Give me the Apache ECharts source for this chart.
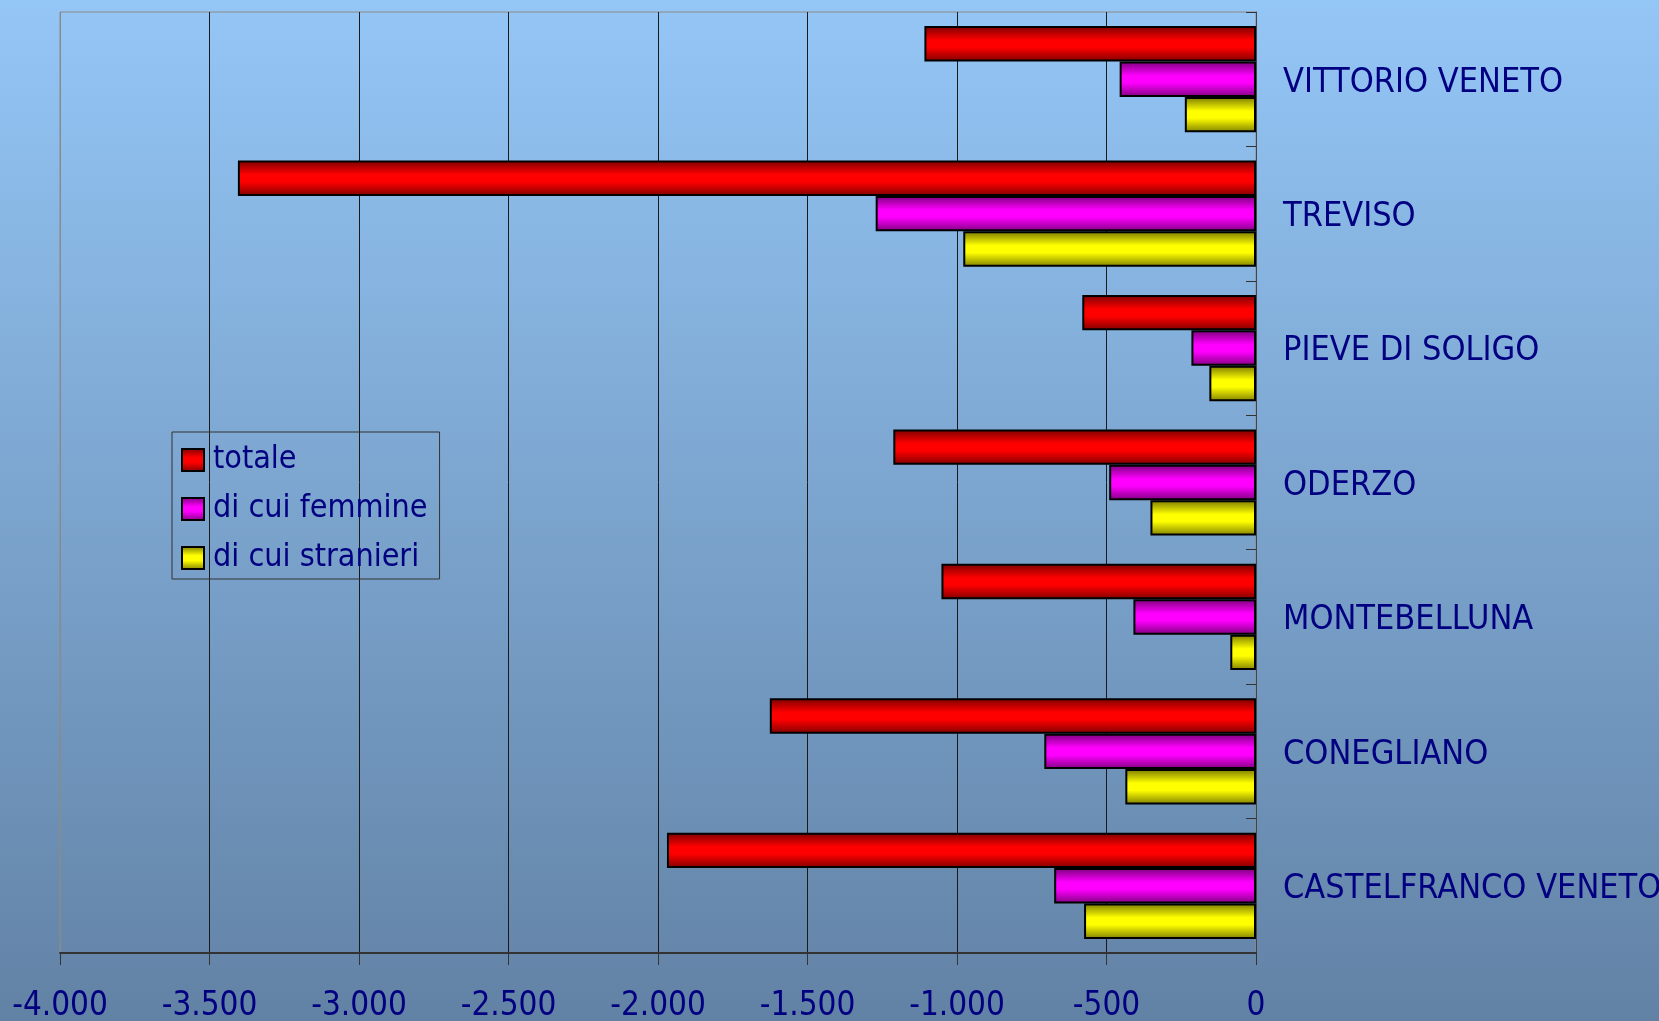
<!DOCTYPE html>
<html>
<head>
<meta charset="utf-8">
<style>
html,body{margin:0;padding:0;width:1659px;height:1021px;overflow:hidden;}
#c{width:1659px;height:1021px;}
</style>
<script src="https://cdn.jsdelivr.net/npm/echarts@6/dist/echarts.min.js"></script>
</head>
<body>
<div id="c"></div>
<script>
var categories = ['VITTORIO VENETO','TREVISO','PIEVE DI SOLIGO','ODERZO','MONTEBELLUNA','CONEGLIANO','CASTELFRANCO VENETO'];
var totale = [-1109, -3405, -581, -1213, -1052, -1626, -1970];
var femmine = [-456, -1272, -216, -491, -410, -708, -675];
var stranieri = [-238, -979, -156, -353, -86, -437, -575];
var seriesNames = ['totale','di cui femmine','di cui stranieri'];
var xTicks = {min: -4000, max: 0, interval: 500};

function grad(dark, bright, dark2){
  return new echarts.graphic.LinearGradient(0,0,0,1,[
    {offset:0,color:dark},{offset:0.4,color:bright},{offset:0.6,color:bright},{offset:1,color:dark2}
  ]);
}
function fmt(v){
  var s = Math.abs(v).toString().replace(/\B(?=(\d{3})+(?!\d))/g,'.');
  return (v<0?'-':'')+s;
}
var chart = echarts.init(document.getElementById('c'));
var font = "'DejaVu Sans Condensed', 'DejaVu Sans'";
var navy = '#000080';
function mk(name, data, style){
  return {
    name:name, type:'bar', data:data, barGap:'0%', barCategoryGap:'21%',
    itemStyle:{color:style, borderColor:'#000', borderWidth:2},
    emphasis:{disabled:true}, animation:false
  };
}
chart.setOption({
  animation:false,
  backgroundColor: new echarts.graphic.LinearGradient(0,0,0,1,[
    {offset:0,color:'#94c6f6'},{offset:1,color:'#6282a5'}
  ]),
  grid:{left:60,right:403,top:12,bottom:68,show:true,borderColor:'#8a8a8a',borderWidth:1,backgroundColor:'transparent',containLabel:false,outerBoundsMode:'none'},
  legend:{
    orient:'vertical', left:172, top:432, padding:[12,12,5,9],
    itemWidth:22, itemHeight:22, itemGap:17, icon:'rect',
    borderColor:'#333', borderWidth:1,
    textStyle:{color:navy, fontSize:32, fontFamily:font, lineHeight:31, padding:[0,0,0,4]},
    data:seriesNames,
    selectedMode:false
  },
  xAxis:{
    type:'value', min:xTicks.min, max:xTicks.max, interval:xTicks.interval,
    axisLine:{show:true, lineStyle:{color:'#333', width:2}},
    axisTick:{show:true, length:12, lineStyle:{color:'#333'}},
    axisLabel:{color:navy, fontSize:33, fontFamily:font, margin:37, formatter:fmt},
    splitLine:{show:true, lineStyle:{color:['#8a8a8a','#1a1a1a','#1a1a1a','#1a1a1a','#1a1a1a','#1a1a1a','#1a1a1a','#1a1a1a','#444'], width:1}}
  },
  yAxis:{
    type:'category', data:categories, inverse:true, position:'right',
    axisLine:{show:true, lineStyle:{color:'#444', width:1}},
    axisTick:{show:true, inside:true, length:10, lineStyle:{color:'#333'}},
    axisLabel:{
      color:navy, fontSize:34, fontFamily:font, margin:27,
      formatter:function(v){ return '{a|' + v + '}'; },
      rich:{a:{color:navy, fontSize:34, fontFamily:font, padding:[7,0,0,0]}}
    },
    splitLine:{show:false}
  },
  series:[
    mk(seriesNames[0], totale, grad('#7a0000','#ff0000','#800000')),
    mk(seriesNames[1], femmine, grad('#7a007a','#ff00ff','#800080')),
    mk(seriesNames[2], stranieri, grad('#7a7a00','#ffff00','#808000'))
  ]
});
</script>
</body>
</html>
